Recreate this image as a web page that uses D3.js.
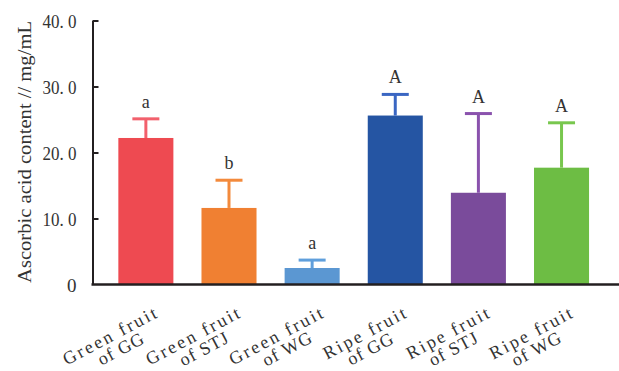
<!DOCTYPE html>
<html>
<head>
<meta charset="utf-8">
<script src="https://cdn.jsdelivr.net/npm/d3@7"></script>
<style>
  html, body { margin: 0; padding: 0; background: #fff; }
  svg { display: block; font-family: "Liberation Serif", "DejaVu Serif", serif; }
</style>
</head>
<body>
<svg id="chart" width="619" height="371"></svg>
<script>
// Ascorbic acid content of green and ripe fruit (mean + SD)
const line1 = ["Green fruit", "Green fruit", "Green fruit", "Ripe fruit", "Ripe fruit", "Ripe fruit"];
const line2 = ["of GG", "of STJ", "of WG", "of GG", "of STJ", "of WG"];
const means = [22.2, 11.6, 2.5, 25.6, 13.9, 17.7];
const sds   = [2.9, 4.2, 1.2, 3.2, 12.0, 6.8];
const letters = ["a", "b", "a", "A", "A", "A"];
const barColors = ["#ee4a51", "#f08032", "#5b97d2", "#2555a3", "#7a4b9b", "#6dbd44"];
const errColors = ["#f2606c", "#f38a3c", "#5f9fdc", "#3a66c2", "#8a52ad", "#78c74e"];
const tickValues = [0, 10, 20, 30, 40];
const tickLabels = ["0", "10. 0", "20. 0", "30. 0", "40. 0"];
const yTitle = "Ascorbic acid content // mg/mL";

const svg = d3.select("#chart");
const axisX = 92.5, axisBottom = 284.5, axisTop = 20.5, axisRight = 619;
const ink = "#231f20";

const x = d3.scaleBand()
  .domain(d3.range(means.length))
  .range([104.3, 603.1])
  .paddingInner(0.338)
  .paddingOuter(0.169);

const y = d3.scaleLinear().domain([0, 40]).range([axisBottom, axisTop]);

// bars
svg.append("g").selectAll("rect")
  .data(means)
  .join("rect")
  .attr("x", (d, i) => x(i))
  .attr("width", x.bandwidth())
  .attr("y", d => y(d))
  .attr("height", d => y(0) - y(d))
  .attr("fill", (d, i) => barColors[i]);

// upper error bars with caps
const capHalf = 13.5;
const eg = svg.append("g").attr("stroke-width", 3).attr("fill", "none");
means.forEach((m, i) => {
  const cx = x(i) + x.bandwidth() / 2;
  eg.append("line")
    .attr("x1", cx).attr("x2", cx)
    .attr("y1", y(m)).attr("y2", y(m + sds[i]))
    .attr("stroke", errColors[i]);
  eg.append("line")
    .attr("x1", cx - capHalf).attr("x2", cx + capHalf)
    .attr("y1", y(m + sds[i])).attr("y2", y(m + sds[i]))
    .attr("stroke", errColors[i]);
});

// significance letters
svg.append("g").selectAll("text")
  .data(letters)
  .join("text")
  .attr("x", (d, i) => x(i) + x.bandwidth() / 2)
  .attr("y", (d, i) => y(means[i] + sds[i]) - 11)
  .attr("text-anchor", "middle")
  .attr("font-size", 18)
  .attr("fill", "#333")
  .text(d => d);

// y axis with inward ticks
const yAxis = d3.axisLeft(y)
  .tickValues(tickValues)
  .tickFormat((d, i) => tickLabels[i])
  .tickSizeInner(-6)
  .tickSizeOuter(0)
  .tickPadding(16);

const gy = svg.append("g")
  .attr("transform", `translate(${axisX},0)`)
  .call(yAxis);
gy.select(".domain").attr("stroke", ink).attr("stroke-width", 2);
gy.selectAll(".tick line").attr("stroke", ink).attr("stroke-width", 2);
gy.selectAll(".tick text")
  .attr("font-family", "Liberation Serif, serif")
  .attr("font-size", 19)
  .attr("fill", "#333")
  .attr("dy", "0.35em")
  .each(function (d, i) {
    if (tickLabels[i].length > 1) {
      d3.select(this).attr("textLength", 34).attr("lengthAdjust", "spacingAndGlyphs");
    }
  });
gy.select(".tick:first-of-type line").remove();

// x axis line
svg.append("line")
  .attr("x1", axisX - 1).attr("x2", axisRight)
  .attr("y1", axisBottom).attr("y2", axisBottom)
  .attr("stroke", ink).attr("stroke-width", 2.5);

// y axis title
svg.append("text")
  .attr("transform", `translate(31,152) rotate(-90)`)
  .attr("text-anchor", "middle")
  .attr("font-size", 18)
  .attr("fill", "#333")
  .attr("textLength", 262)
  .attr("lengthAdjust", "spacingAndGlyphs")
  .text(yTitle);

// rotated two-line category labels: first line ends near the bar, second line centred below it
const lg = svg.append("g").attr("fill", "#333").attr("font-size", 18);
line1.forEach((t, i) => {
  const cx = x(i) + x.bandwidth() / 2;
  const g = lg.append("g")
    .attr("transform", `translate(${cx + 12},${311.5}) rotate(-28)`);
  g.append("text")
    .attr("x", 0).attr("y", 5)
    .attr("text-anchor", "end")
    .attr("letter-spacing", 2.4)
    .text(t);
  g.append("text")
    .attr("x", -50).attr("y", 21.5)
    .attr("text-anchor", "middle")
    .attr("letter-spacing", 1)
    .text(line2[i]);
});
</script>
</body>
</html>
